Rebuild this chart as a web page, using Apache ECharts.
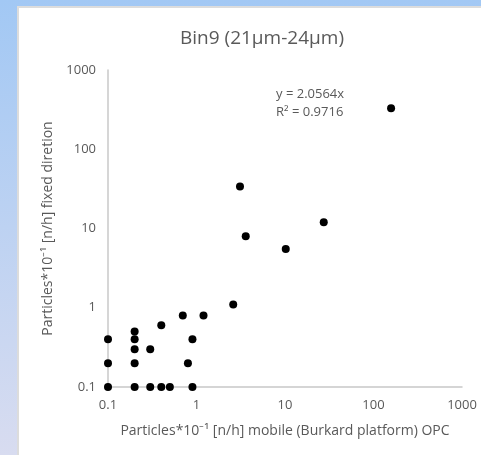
<!DOCTYPE html>
<html>
<head>
<meta charset="utf-8">
<script src="https://cdn.jsdelivr.net/npm/echarts@6/dist/echarts.min.js"></script>
<style>
  html, body { margin: 0; padding: 0; }
  #chart { width: 481px; height: 455px; }
</style>
</head>
<body>
<div id="chart"></div>
<script>
// mobile OPC (x) vs fixed direction (y), particles*10^-1 [n/h]
var mobileX = [0.1, 0.1, 0.1, 0.2, 0.2, 0.2, 0.2, 0.2, 0.3, 0.3, 0.4, 0.4, 0.5, 0.7, 0.9, 0.8, 0.9, 1.2, 2.6, 3.1, 3.6, 10.2, 27.4, 158];
var fixedY  = [0.4, 0.2, 0.1, 0.5, 0.4, 0.3, 0.2, 0.1, 0.3, 0.1, 0.6, 0.1, 0.1, 0.8, 0.4, 0.2, 0.1, 0.8, 1.1, 34, 8, 5.5, 12, 330];
var eqLines = ['y = 2.0564x', 'R² = 0.9716'];

var points = mobileX.map(function (x, i) { return [x, fixedY[i]]; });

var grey = '#595959';
var font = '"Open Sans", "Liberation Sans", sans-serif';

function plain(v) { return String(v); }

var option = {
  backgroundColor: {
    type: 'linear', x: 0, y: 0, x2: 0, y2: 1,
    colorStops: [{ offset: 0, color: '#a2c8f4' }, { offset: 1, color: '#d8dcf0' }]
  },
  textStyle: { fontFamily: font },
  graphic: [
    {
      type: 'rect', z: -10, silent: true,
      shape: { x: 18, y: 7, width: 470, height: 460 },
      style: { fill: '#ffffff', stroke: '#dcdcdc', lineWidth: 2 }
    },
    {
      type: 'text', left: 276, top: 85,
      style: { text: eqLines.join('\n'), fill: grey, font: '13px ' + font, lineHeight: 18 }
    }
  ],
  title: {
    text: 'Bin9 (21µm-24µm)',
    left: 257, top: 24, textAlign: 'center',
    textStyle: { color: grey, fontSize: 19, fontWeight: 'normal', fontFamily: font }
  },
  grid: { left: 108, right: 19, top: 70, bottom: 68 },
  xAxis: {
    type: 'log', logBase: 10, min: 0.1, max: 1000,
    name: 'Particles*10⁻¹ [n/h] mobile (Burkard platform) OPC',
    nameLocation: 'middle', nameGap: 37,
    nameTextStyle: { color: grey, fontSize: 14 },
    axisLine: { lineStyle: { color: '#c8c8c8', width: 1.5 } },
    axisTick: { show: false },
    splitLine: { show: false },
    axisLabel: { color: grey, fontSize: 13, margin: 12, formatter: plain }
  },
  yAxis: {
    type: 'log', logBase: 10, min: 0.1, max: 1000,
    name: 'Particles*10⁻¹ [n/h] fixed diretion',
    nameLocation: 'middle', nameGap: 50,
    nameTextStyle: { color: grey, fontSize: 14 },
    axisLine: { show: true, lineStyle: { color: '#c8c8c8', width: 1.5 } },
    axisTick: { show: false },
    splitLine: { show: false },
    axisLabel: { color: grey, fontSize: 13, margin: 12, formatter: plain }
  },
  series: [{
    type: 'scatter',
    data: points,
    symbolSize: 8,
    itemStyle: { color: '#000000', opacity: 1 }
  }]
};

var myChart = echarts.init(document.getElementById('chart'));
myChart.setOption(option);
</script>
</body>
</html>
